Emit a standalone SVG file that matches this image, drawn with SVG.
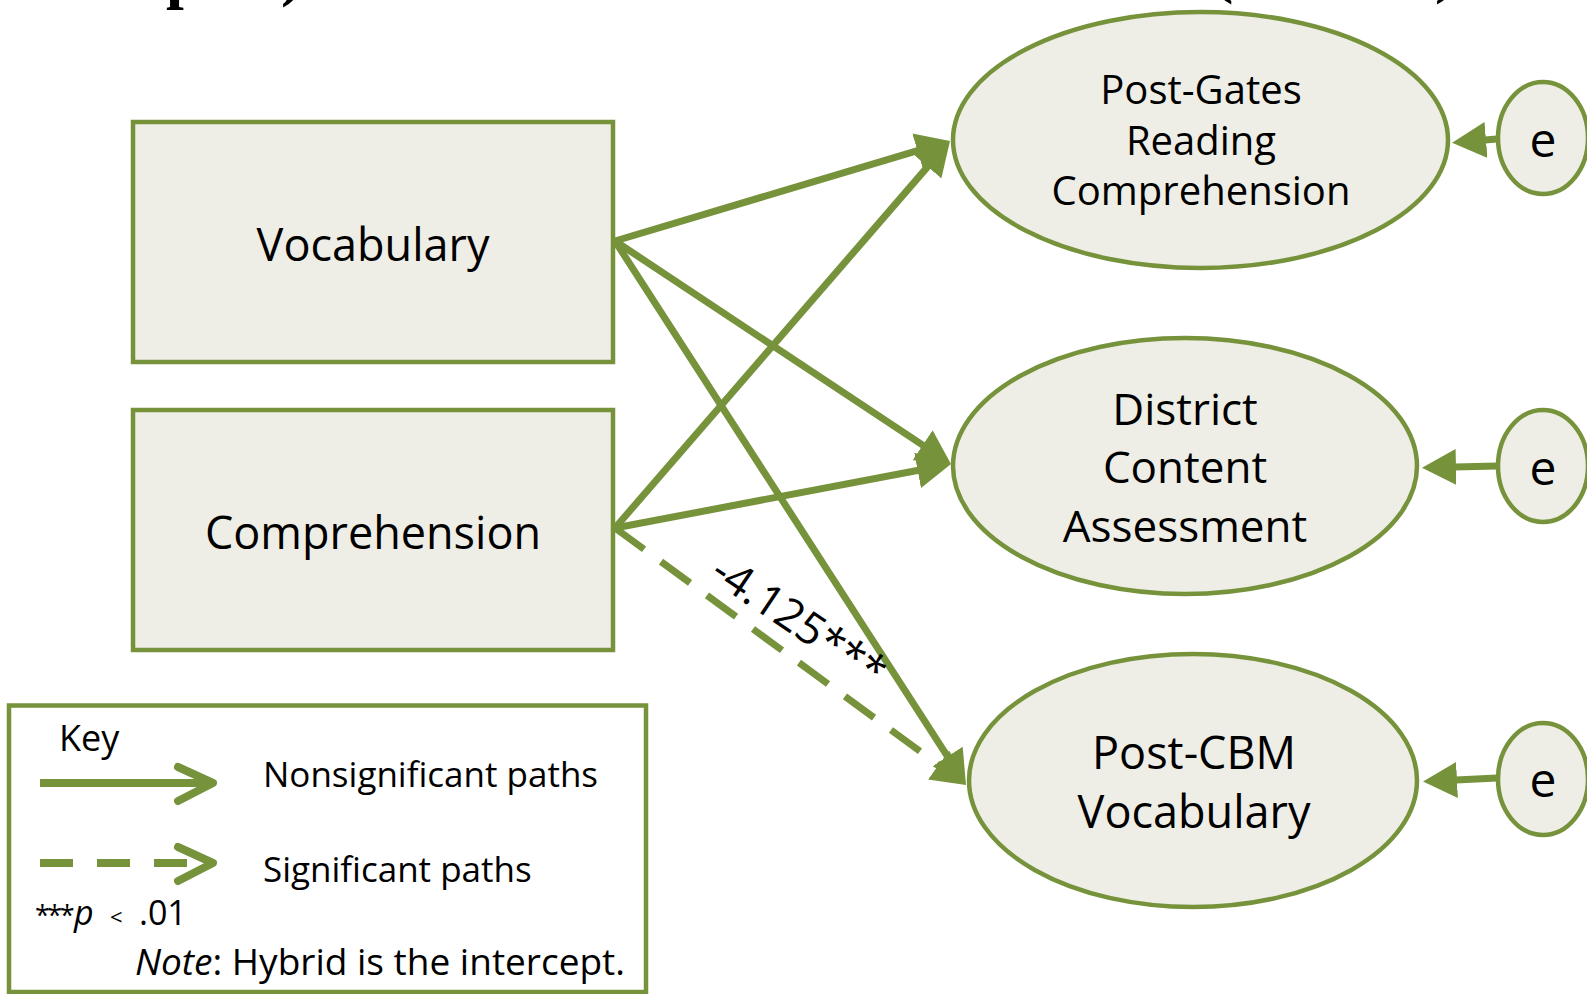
<svg xmlns="http://www.w3.org/2000/svg" width="1587" height="994" viewBox="0 0 1587 994">
  <style>
    .node{fill:#EEEEE6;stroke:#76933C;stroke-width:4.5}
    .lbl{font-family:"Open Sans","Noto Sans",sans-serif;fill:#000;text-anchor:middle}
    .txt{font-family:"Open Sans","Noto Sans",sans-serif;fill:#000}
    .ttl{font-family:"Liberation Serif",serif;font-weight:bold;font-size:64px;fill:#000}
    .path{fill:none;stroke:#76933C;stroke-width:7}
    .dash{stroke-dasharray:36 21}
    .key{fill:none;stroke:#76933C;stroke-width:8;stroke-linecap:round;stroke-linejoin:round}
    .keyline{fill:none;stroke:#76933C;stroke-width:8}
  </style>
  <defs>
    <marker id="ah" viewBox="0 0 34 36" refX="1" refY="18" markerWidth="34" markerHeight="36" markerUnits="userSpaceOnUse" orient="auto">
      <path d="M0,0 L34,18 L0,36 z" fill="#76933C"/>
    </marker>
  </defs>
  <rect width="1587" height="994" fill="#FFFFFF"/>

  <!-- heading line running off the top edge -->
  <g id="heading">
    <text class="ttl" x="166" y="-4">p</text>
    <text class="ttl" x="281" y="-6">)</text>
    <text class="ttl" x="1212" y="-9">(</text>
    <text class="ttl" x="1435" y="-9">)</text>
  </g>

  <!-- predictors -->
  <g id="vocabulary">
    <rect class="node" x="133" y="122" width="480" height="240"/>
    <text class="lbl" x="373" y="261" font-size="45">Vocabulary</text>
  </g>
  <g id="comprehension">
    <rect class="node" x="133" y="410" width="480" height="240"/>
    <text class="lbl" x="373" y="549" font-size="45">Comprehension</text>
  </g>

  <!-- outcomes -->
  <g id="post-gates">
    <ellipse class="node" cx="1200.5" cy="140" rx="247.5" ry="128"/>
    <text class="lbl" font-size="40"><tspan x="1201" y="104">Post-Gates</tspan><tspan x="1201" y="155">Reading</tspan><tspan x="1201" y="205">Comprehension</tspan></text>
  </g>
  <g id="district">
    <ellipse class="node" cx="1185" cy="466" rx="232" ry="128"/>
    <text class="lbl" font-size="44"><tspan x="1185" y="425">District</tspan><tspan x="1185" y="483">Content</tspan><tspan x="1185" y="542">Assessment</tspan></text>
  </g>
  <g id="post-cbm">
    <ellipse class="node" cx="1193" cy="780.5" rx="224" ry="126.5"/>
    <text class="lbl" font-size="45"><tspan x="1194" y="769">Post-CBM</tspan><tspan x="1194" y="828">Vocabulary</tspan></text>
  </g>

  <!-- residual terms -->
  <g id="e1">
    <ellipse class="node" cx="1543" cy="138" rx="45" ry="56"/>
    <text class="lbl" x="1543" y="157" font-size="48">e</text>
  </g>
  <g id="e2">
    <ellipse class="node" cx="1543" cy="466" rx="45" ry="56"/>
    <text class="lbl" x="1543" y="485" font-size="48">e</text>
  </g>
  <g id="e3">
    <ellipse class="node" cx="1543" cy="779" rx="45" ry="56"/>
    <text class="lbl" x="1543" y="797" font-size="48">e</text>
  </g>

  <!-- paths -->
  <g id="connectors">
    <line class="path" x1="615" y1="241" x2="918.4" y2="150.4" marker-end="url(#ah)"/>
    <line class="path" x1="615" y1="528" x2="928.4" y2="165.9" marker-end="url(#ah)"/>
    <line class="path" x1="615" y1="241" x2="923.5" y2="445.7" marker-end="url(#ah)"/>
    <line class="path" x1="615" y1="528" x2="918.6" y2="470.2" marker-end="url(#ah)"/>
    <line class="path" x1="615" y1="241" x2="948.1" y2="757.3" marker-end="url(#ah)"/>
    <line class="path dash" x1="615" y1="528" x2="939.4" y2="765.5" marker-end="url(#ah)"/>
    <line class="path" x1="1497" y1="139" x2="1485" y2="140" marker-end="url(#ah)"/>
    <line class="path" x1="1497" y1="466" x2="1455" y2="467" marker-end="url(#ah)"/>
    <line class="path" x1="1497" y1="778" x2="1456" y2="780" marker-end="url(#ah)"/>
    <text class="txt" transform="translate(708 578) rotate(34)" font-size="44">-4.125***</text>
  </g>

  <!-- legend -->
  <g id="key">
    <rect x="9" y="705.5" width="637" height="286.5" fill="#FFFFFF" stroke="#76933C" stroke-width="4.5"/>
    <text class="txt" x="59" y="751" font-size="36">Key</text>
    <line class="keyline" x1="40" y1="783" x2="212" y2="783"/>
    <polyline class="key" points="178,767 213,783 178,801"/>
    <text class="txt" x="263" y="787" font-size="35">Nonsignificant paths</text>
    <line class="keyline" x1="40" y1="863" x2="212" y2="863" stroke-dasharray="33 24"/>
    <polyline class="key" points="178,847 213,863 178,881"/>
    <text class="txt" x="263" y="882" font-size="35">Significant paths</text>
    <text class="txt" y="925" font-size="34"><tspan x="35" font-size="27" letter-spacing="-2.5">***</tspan><tspan x="74" font-style="italic">p</tspan><tspan x="110" font-size="22">&lt;</tspan><tspan x="139">.01</tspan></text>
    <text class="txt" y="975" font-size="37"><tspan x="135" font-style="italic">Note</tspan>: Hybrid is the intercept.</text>
  </g>
</svg>
